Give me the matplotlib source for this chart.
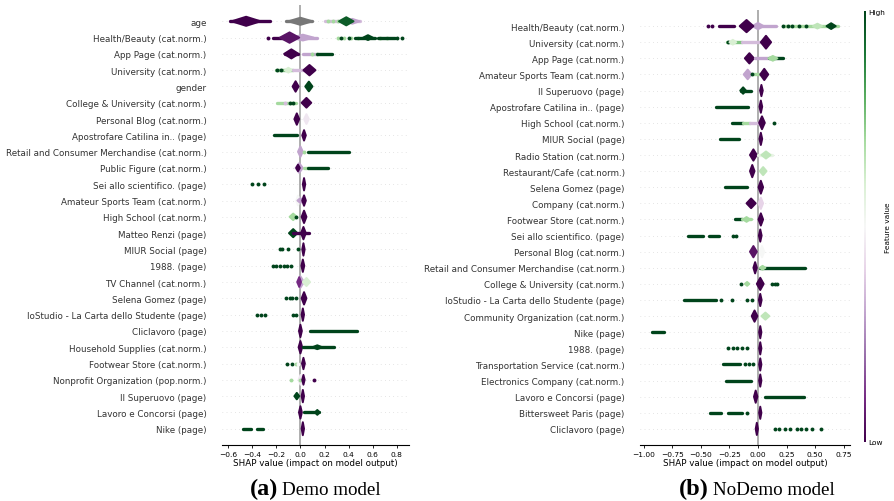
import matplotlib
matplotlib.use("Agg")
import matplotlib.pyplot as plt
from matplotlib.cm import ScalarMappable
from matplotlib.colors import Normalize

plt.rcParams["font.family"] = ["DejaVu Sans"]

# ---- data ----------------------------------------------------------------
# marks per feature row: ("blob", x_centre, half_width, half_height, value),
# ("line", x_from, x_to, value), ("dots", [x, ...], value); value None = missing
demo_features = [
    "age", "Health/Beauty (cat.norm.)", "App Page (cat.norm.)",
    "University (cat.norm.)", "gender", "College & University (cat.norm.)",
    "Personal Blog (cat.norm.)", "Apostrofare Catilina in.. (page)",
    "Retail and Consumer Merchandise (cat.norm.)", "Public Figure (cat.norm.)",
    "Sei allo scientifico. (page)", "Amateur Sports Team (cat.norm.)",
    "High School (cat.norm.)", "Matteo Renzi (page)", "MIUR Social (page)",
    "1988. (page)", "TV Channel (cat.norm.)", "Selena Gomez (page)",
    "IoStudio - La Carta dello Studente (page)", "Cliclavoro (page)",
    "Household Supplies (cat.norm.)", "Footwear Store (cat.norm.)",
    "Nonprofit Organization (pop.norm.)", "Il Superuovo (page)",
    "Lavoro e Concorsi (page)", "Nike (page)",
]
demo_marks = [
    [("line", -0.58, -0.25, 0.0), ("blob", -0.45, 0.12, 0.28, 0.0),
     ("line", -0.12, 0.10, None), ("blob", 0.0, 0.10, 0.22, None),
     ("line", 0.20, 0.49, 0.35), ("blob", 0.43, 0.06, 0.15, 0.3),
     ("dots", [0.23, 0.27, 0.31], 0.7), ("blob", 0.38, 0.06, 0.25, 0.95)],
    [("dots", [-0.27], 0.0), ("line", -0.23, -0.09, 0.0),
     ("line", -0.05, 0.14, 0.3), ("blob", 0.02, 0.09, 0.18, 0.3),
     ("blob", -0.09, 0.08, 0.32, 0.05),
     ("dots", [0.31, 0.36, 0.42, 0.48, 0.66, 0.72], 0.7),
     ("line", 0.45, 0.62, 1.0), ("line", 0.64, 0.78, 1.0),
     ("blob", 0.56, 0.04, 0.15, 1.0), ("dots", [0.34, 0.40, 0.80, 0.84], 1.0)],
    [("line", -0.13, -0.02, 0.0), ("blob", -0.075, 0.06, 0.28, 0.0),
     ("line", 0.02, 0.14, 0.3), ("dots", [0.10, 0.14], 0.7),
     ("line", 0.14, 0.26, 1.0)],
    [("line", -0.20, -0.06, 0.75), ("dots", [-0.19, -0.16], 1.0),
     ("blob", -0.10, 0.03, 0.15, 0.6), ("line", -0.06, 0.04, 0.35),
     ("blob", 0.075, 0.05, 0.32, 0.0)],
    [("blob", -0.04, 0.025, 0.32, 0.0), ("blob", 0.07, 0.03, 0.30, 1.0)],
    [("line", -0.19, -0.04, 0.7), ("dots", [-0.13], 0.35),
     ("dots", [-0.09, -0.06], 1.0), ("blob", 0.05, 0.04, 0.30, 0.0)],
    [("blob", -0.03, 0.02, 0.35, 0.0), ("blob", 0.05, 0.02, 0.30, 0.45)],
    [("line", -0.22, -0.03, 1.0), ("blob", 0.03, 0.015, 0.32, 0.0)],
    [("blob", 0.0, 0.02, 0.32, 0.3), ("dots", [0.03], 0.7),
     ("line", 0.06, 0.40, 1.0)],
    [("blob", -0.01, 0.03, 0.30, 0.3), ("blob", -0.02, 0.015, 0.20, 0.0),
     ("line", 0.03, 0.06, 0.7), ("line", 0.06, 0.23, 1.0)],
    [("dots", [-0.40, -0.35, -0.30], 1.0), ("blob", 0.03, 0.01, 0.38, 0.0)],
    [("blob", -0.02, 0.015, 0.30, 0.5), ("blob", 0.0, 0.025, 0.15, 0.3),
     ("blob", 0.03, 0.015, 0.32, 0.0)],
    [("blob", -0.06, 0.03, 0.20, 0.7), ("dots", [-0.04], 1.0),
     ("blob", 0.03, 0.02, 0.38, 0.0)],
    [("blob", -0.06, 0.035, 0.25, 1.0), ("line", -0.06, 0.07, 0.0),
     ("blob", 0.025, 0.02, 0.38, 0.0)],
    [("dots", [-0.17, -0.15, -0.10, -0.02], 1.0), ("blob", 0.025, 0.01, 0.38, 0.0)],
    [("dots", [-0.23, -0.20, -0.17, -0.14, -0.11, -0.08], 1.0),
     ("blob", 0.02, 0.012, 0.38, 0.0)],
    [("blob", 0.0, 0.03, 0.35, 0.3), ("blob", -0.01, 0.015, 0.30, 0.1),
     ("blob", 0.05, 0.03, 0.25, 0.6)],
    [("dots", [-0.12, -0.09, -0.07, -0.04], 1.0), ("blob", 0.03, 0.02, 0.38, 0.0)],
    [("dots", [-0.36, -0.33, -0.29, -0.06, -0.04], 1.0),
     ("blob", 0.02, 0.01, 0.38, 0.0)],
    [("blob", 0.0, 0.012, 0.38, 0.0), ("line", 0.08, 0.47, 1.0)],
    [("blob", 0.0, 0.015, 0.38, 0.0), ("line", 0.02, 0.28, 1.0),
     ("blob", 0.14, 0.04, 0.12, 1.0)],
    [("dots", [-0.11, -0.07], 1.0), ("dots", [-0.04], 0.7), ("dots", [-0.02], 0.5),
     ("blob", 0.025, 0.012, 0.35, 0.0)],
    [("dots", [-0.08], 0.7), ("blob", 0.0, 0.015, 0.30, 0.45), ("dots", [0.0], 0.7),
     ("blob", 0.025, 0.01, 0.30, 0.0), ("dots", [0.11], 0.0)],
    [("blob", -0.03, 0.02, 0.20, 1.0), ("blob", 0.02, 0.01, 0.38, 0.0)],
    [("blob", 0.0, 0.012, 0.38, 0.0), ("line", 0.03, 0.15, 1.0),
     ("blob", 0.14, 0.02, 0.15, 1.0)],
    [("line", -0.48, -0.41, 1.0), ("line", -0.36, -0.31, 1.0),
     ("blob", 0.02, 0.01, 0.40, 0.0)],
]

nodemo_features = [
    "Health/Beauty (cat.norm.)", "University (cat.norm.)", "App Page (cat.norm.)",
    "Amateur Sports Team (cat.norm.)", "Il Superuovo (page)",
    "Apostrofare Catilina in.. (page)", "High School (cat.norm.)",
    "MIUR Social (page)", "Radio Station (cat.norm.)",
    "Restaurant/Cafe (cat.norm.)", "Selena Gomez (page)", "Company (cat.norm.)",
    "Footwear Store (cat.norm.)", "Sei allo scientifico. (page)",
    "Personal Blog (cat.norm.)", "Retail and Consumer Merchandise (cat.norm.)",
    "College & University (cat.norm.)", "IoStudio - La Carta dello Studente (page)",
    "Community Organization (cat.norm.)", "Nike (page)", "1988. (page)",
    "Transportation Service (cat.norm.)", "Electronics Company (cat.norm.)",
    "Lavoro e Concorsi (page)", "Bittersweet Paris (page)", "Cliclavoro (page)",
]
nodemo_marks = [
    [("dots", [-0.44, -0.405], 0.0), ("line", -0.34, -0.21, 0.0),
     ("line", -0.03, 0.16, 0.3), ("blob", 0.0, 0.05, 0.20, 0.3),
     ("blob", -0.10, 0.06, 0.38, 0.0),
     ("line", 0.22, 0.70, 0.7), ("dots", [0.22, 0.26, 0.30, 0.36, 0.42], 1.0),
     ("blob", 0.52, 0.04, 0.15, 0.65), ("blob", 0.64, 0.04, 0.18, 1.0)],
    [("line", -0.27, -0.14, 0.75), ("dots", [-0.26], 1.0),
     ("blob", -0.22, 0.03, 0.15, 0.6), ("line", -0.14, 0.05, 0.35),
     ("blob", 0.07, 0.045, 0.40, 0.0)],
    [("blob", -0.075, 0.04, 0.32, 0.0), ("line", -0.03, 0.10, 0.3),
     ("line", 0.10, 0.22, 1.0), ("blob", 0.13, 0.04, 0.15, 0.7)],
    [("blob", -0.09, 0.035, 0.30, 0.3), ("line", -0.05, 0.02, 0.7),
     ("dots", [-0.05], 1.0), ("blob", 0.055, 0.035, 0.35, 0.0)],
    [("line", -0.15, -0.06, 1.0), ("blob", -0.13, 0.025, 0.20, 1.0),
     ("blob", 0.03, 0.012, 0.35, 0.0)],
    [("line", -0.37, -0.09, 1.0), ("blob", 0.025, 0.012, 0.38, 0.0)],
    [("line", -0.23, -0.13, 1.0), ("line", -0.13, -0.07, 0.7),
     ("line", -0.07, 0.0, 0.35), ("blob", 0.035, 0.025, 0.40, 0.0),
     ("dots", [0.14], 1.0)],
    [("line", -0.33, -0.17, 1.0), ("blob", 0.025, 0.012, 0.38, 0.0)],
    [("blob", -0.04, 0.03, 0.35, 0.0), ("line", 0.0, 0.12, 0.55),
     ("blob", 0.07, 0.04, 0.22, 0.65)],
    [("blob", -0.05, 0.02, 0.38, 0.0), ("blob", 0.045, 0.03, 0.25, 0.65)],
    [("line", -0.285, -0.10, 1.0), ("blob", 0.025, 0.02, 0.40, 0.0)],
    [("blob", -0.06, 0.04, 0.30, 0.0), ("blob", 0.025, 0.02, 0.35, 0.4)],
    [("line", -0.20, -0.14, 1.0), ("line", -0.14, -0.06, 0.7),
     ("blob", -0.10, 0.03, 0.15, 0.7), ("blob", 0.025, 0.02, 0.38, 0.0)],
    [("line", -0.61, -0.48, 1.0), ("line", -0.43, -0.345, 1.0),
     ("dots", [-0.22, -0.19], 1.0), ("blob", 0.02, 0.012, 0.38, 0.0)],
    [("blob", -0.04, 0.03, 0.35, 0.05), ("blob", 0.035, 0.02, 0.35, 0.5)],
    [("blob", -0.025, 0.015, 0.35, 0.0), ("line", 0.02, 0.41, 1.0),
     ("blob", 0.04, 0.025, 0.12, 0.7)],
    [("dots", [-0.145], 1.0), ("blob", -0.095, 0.02, 0.12, 0.7),
     ("blob", 0.02, 0.03, 0.38, 0.0), ("dots", [0.12, 0.15, 0.17], 1.0)],
    [("line", -0.65, -0.37, 1.0), ("dots", [-0.32, -0.225, -0.10, -0.05], 1.0),
     ("blob", 0.02, 0.012, 0.38, 0.0)],
    [("blob", -0.03, 0.025, 0.35, 0.0), ("blob", 0.065, 0.035, 0.22, 0.65)],
    [("line", -0.93, -0.82, 1.0), ("blob", 0.02, 0.01, 0.38, 0.0)],
    [("dots", [-0.26, -0.22, -0.18, -0.14, -0.10], 1.0),
     ("blob", 0.02, 0.01, 0.38, 0.0)],
    [("line", -0.31, -0.16, 1.0), ("dots", [-0.11, -0.08, -0.04], 1.0),
     ("blob", 0.02, 0.01, 0.38, 0.0)],
    [("line", -0.28, -0.06, 1.0), ("blob", 0.02, 0.01, 0.38, 0.0)],
    [("blob", -0.02, 0.015, 0.38, 0.0), ("line", 0.06, 0.40, 1.0)],
    [("line", -0.42, -0.32, 1.0), ("line", -0.26, -0.14, 1.0),
     ("dots", [-0.10], 1.0), ("blob", 0.02, 0.01, 0.38, 0.0)],
    [("blob", -0.01, 0.01, 0.38, 0.0),
     ("dots", [0.15, 0.18, 0.24, 0.28, 0.34, 0.38, 0.42, 0.47, 0.55], 1.0)],
]

demo_xticks = [-0.6, -0.4, -0.2, 0.0, 0.2, 0.4, 0.6, 0.8]
nodemo_xticks = [-1.00, -0.75, -0.50, -0.25, 0.00, 0.25, 0.50, 0.75]

cmap = plt.get_cmap("PRGn")


def colour(v):
    return "#777777" if v is None else cmap(v)


def draw_panel(ax, features, marks, xticks, fmt, xlim):
    n = len(features)
    for i, row in enumerate(marks):
        y = n - 1 - i
        ax.axhline(y, color="#cccccc", lw=0.5, dashes=(1, 5), zorder=-1)
        for m in row:
            if m[0] == "line":
                _, x0, x1, v = m
                ax.plot([x0, x1], [y, y], color=colour(v), lw=2.4,
                        solid_capstyle="round", zorder=2)
            elif m[0] == "dots":
                _, xs, v = m
                ax.plot(xs, [y] * len(xs), "o", color=colour(v), ms=2.8,
                        mew=0, zorder=2)
            else:
                _, xc, hw, hh, v = m
                ax.fill([xc - hw, xc, xc + hw, xc], [y, y + hh, y, y - hh],
                        facecolor=colour(v), edgecolor=colour(v), lw=1.4,
                        joinstyle="round", zorder=2)
    ax.axvline(0, color="#999999", lw=1.1, zorder=1)
    ax.set_ylim(-1, n)
    ax.set_xlim(*xlim)
    ax.set_yticks(range(n))
    ax.set_yticklabels(features[::-1], fontsize=6.3, color="#333333")
    ax.tick_params("y", length=0, pad=11)
    ax.set_xticks(xticks)
    ax.set_xticklabels([fmt.format(t).replace("-", "\u2212") for t in xticks])
    ax.tick_params("x", labelsize=5.4, length=2.5, width=0.6, pad=1.5)
    ax.set_xlabel("SHAP value (impact on model output)", fontsize=6.3, labelpad=1)
    for side in ("left", "right", "top"):
        ax.spines[side].set_visible(False)
    ax.spines["bottom"].set_linewidth(0.8)


W, H = 894, 502
fig = plt.figure(figsize=(W / 100, H / 100), dpi=100)

ax_a = fig.add_axes([222 / W, 56 / H, 187 / W, 440 / H])
draw_panel(ax_a, demo_features, demo_marks, demo_xticks, "{:.1f}", (-0.65, 0.90))

ax_b = fig.add_axes([640 / W, 56 / H, 210 / W, 435 / H])
draw_panel(ax_b, nodemo_features, nodemo_marks, nodemo_xticks, "{:.2f}", (-1.032, 0.805))

cax = fig.add_axes([864 / W, 59 / H, 2.2 / W, 431 / H])
cb = fig.colorbar(ScalarMappable(norm=Normalize(0, 1), cmap=cmap), cax=cax, ticks=[0, 1])
cb.set_ticklabels(["Low", "High"])
cb.ax.tick_params(labelsize=5.3, length=0, pad=1.5)
cb.outline.set_visible(False)
cb.set_label("Feature value", size=5.3, labelpad=0)

serif = "Liberation Serif"
fig.text(278 / W, 7 / H, "(a)", family=serif, weight="bold", fontsize=17.5,
         ha="right", va="baseline")
fig.text(282 / W, 7 / H, "Demo model", family=serif, fontsize=13.7,
         ha="left", va="baseline")
fig.text(709 / W, 7 / H, "(b)", family=serif, weight="bold", fontsize=17.5,
         ha="right", va="baseline")
fig.text(713 / W, 7 / H, "NoDemo model", family=serif, fontsize=13.7,
         ha="left", va="baseline")

fig.savefig("out.png", dpi=100)
